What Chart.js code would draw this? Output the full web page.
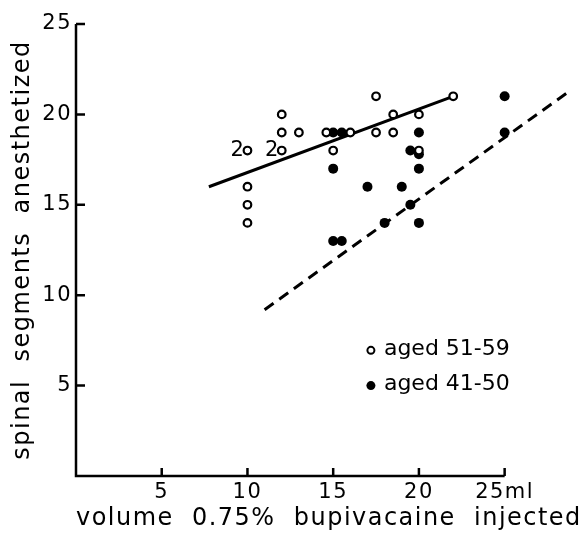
<!DOCTYPE html>
<html>
<head>
<meta charset="utf-8">
<script src="https://cdn.jsdelivr.net/npm/chart.js@4/dist/chart.umd.min.js"></script>
<style>
  body { margin: 0; background: #fff; }
  #wrap { width: 588px; height: 533px; }
</style>
</head>
<body>
<div id="wrap"><canvas id="grafico"></canvas></div>
<script>
// aged 51-59 (open circles)
const idosos_x = [10, 10, 10, 10, 12, 12, 12, 13, 14.6, 15, 16, 17.5, 17.5, 18.5, 18.5, 20, 20, 22]
const idosos_y = [14, 15, 16, 18, 20, 19, 18, 19, 19, 18, 19, 21, 19, 20, 19, 20, 18, 21]
// aged 41-50 (filled circles)
const jovens_x = [15, 15.5, 15, 15, 15.5, 17, 18, 19, 19.5, 19.5, 20, 20, 20, 20, 25, 25]
const jovens_y = [19, 19, 17, 13, 13, 16, 14, 16, 15, 18, 19, 17.8, 17, 14, 21, 19]
// regression lines (end points as read)
const reta_idosos = [[7.75, 16], [22, 21]]
const reta_jovens = [[11, 9.2], [28.8, 21.3]]
// "2" marks = two coincident cases
const duplos = [[10, 18], [12, 18]]

const ticksX = [5, 10, 15, 20, 25]
const ticksY = [5, 10, 15, 20, 25]
const legendas = ["aged 51-59", "aged 41-50"]

const fonte = "DejaVu Sans"
const pares = (xs, ys) => xs.map((x, i) => ({ x: x, y: ys[i] }))

const eixos = {
  id: 'eixos',
  beforeDraw(chart) {
    chart.ctx.letterSpacing = '1.5px'
  },
  afterDraw(chart) {
    const ctx = chart.ctx
    const sx = chart.scales.x, sy = chart.scales.y
    const x0 = sx.getPixelForValue(0), y0 = sy.getPixelForValue(0)
    ctx.save()
    ctx.strokeStyle = '#000'
    ctx.lineWidth = 2.5
    ctx.beginPath()
    ctx.moveTo(x0, sy.getPixelForValue(25))
    ctx.lineTo(x0, y0)
    ctx.lineTo(sx.getPixelForValue(25), y0)
    ticksX.forEach(v => {
      const p = sx.getPixelForValue(v)
      ctx.moveTo(p, y0); ctx.lineTo(p, y0 - 8)
    })
    ticksY.forEach(v => {
      const p = sy.getPixelForValue(v)
      ctx.moveTo(x0, p); ctx.lineTo(x0 + 9, p)
    })
    ctx.stroke()

    // "2" labels
    ctx.fillStyle = '#000'
    ctx.font = '21px ' + fonte
    ctx.textAlign = 'right'
    ctx.textBaseline = 'middle'
    duplos.forEach(d => {
      ctx.fillText('2', sx.getPixelForValue(d[0]) - 2, sy.getPixelForValue(d[1]))
    })

    // legend
    ctx.letterSpacing = '0px'
    ctx.font = '22px ' + fonte
    ctx.textAlign = 'left'
    const lx = sx.getPixelForValue(17.2)
    const linhas = [sy.getPixelForValue(6.95), sy.getPixelForValue(5)]
    ctx.lineWidth = 2
    ctx.beginPath()
    ctx.arc(lx, linhas[0], 3.5, 0, Math.PI * 2)
    ctx.fillStyle = '#fff'; ctx.fill(); ctx.stroke()
    ctx.beginPath()
    ctx.arc(lx, linhas[1], 4.5, 0, Math.PI * 2)
    ctx.fillStyle = '#000'; ctx.fill()
    legendas.forEach((t, i) => ctx.fillText(t, lx + 13, linhas[i] - 1))
    ctx.restore()
  }
}

new Chart(document.getElementById('grafico'), {
  type: 'scatter',
  data: {
    datasets: [
      {
        label: legendas[0],
        data: pares(idosos_x, idosos_y),
        pointRadius: 3.8,
        borderWidth: 2.2,
        borderColor: '#000',
        backgroundColor: '#fff'
      },
      {
        label: legendas[1],
        data: pares(jovens_x, jovens_y),
        pointRadius: 5,
        borderWidth: 0,
        backgroundColor: '#000'
      },
      {
        type: 'line',
        data: reta_idosos.map(p => ({ x: p[0], y: p[1] })),
        borderColor: '#000',
        borderWidth: 3,
        pointRadius: 0
      },
      {
        type: 'line',
        data: reta_jovens.map(p => ({ x: p[0], y: p[1] })),
        borderColor: '#000',
        borderWidth: 3,
        borderDash: [11, 7],
        pointRadius: 0
      }
    ]
  },
  options: {
    responsive: true,
    maintainAspectRatio: false,
    animation: false,
    layout: { padding: { top: 24, right: 0, left: 0, bottom: 0 } },
    plugins: { legend: { display: false }, tooltip: { enabled: false } },
    scales: {
      x: {
        type: 'linear',
        min: 0,
        max: 29.5,
        afterBuildTicks: s => { s.ticks = ticksX.map(v => ({ value: v })) },
        afterFit: s => { s.height = 57 },
        ticks: {
          color: '#000',
          font: { family: fonte, size: 21 },
          padding: 4,
          maxRotation: 0,
          autoSkip: false,
          callback: v => v === 25 ? '25ml' : String(v)
        },
        grid: { display: false, drawTicks: false },
        border: { display: false },
        title: {
          display: true,
          text: 'volume  0.75%  bupivacaine  injected',
          color: '#000',
          font: { family: fonte, size: 24 },
          padding: { top: 0, bottom: 0 }
        }
      },
      y: {
        min: 0,
        max: 25,
        afterBuildTicks: s => { s.ticks = ticksY.map(v => ({ value: v })) },
        afterFit: s => { s.width = 76 },
        ticks: {
          color: '#000',
          font: { family: fonte, size: 21 },
          padding: 4,
          autoSkip: false
        },
        grid: { display: false, drawTicks: false },
        border: { display: false },
        title: {
          display: true,
          text: 'spinal  segments  anesthetized',
          color: '#000',
          font: { family: fonte, size: 24 },
          padding: { top: 8, bottom: 0 }
        }
      }
    }
  },
  plugins: [eixos]
})
</script>
</body>
</html>
